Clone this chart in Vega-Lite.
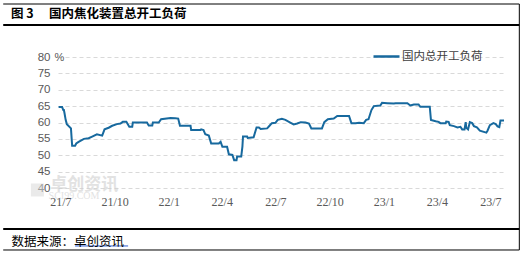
{
  "$schema": "https://vega.github.io/schema/vega-lite/v6.json",
  "width": 446,
  "height": 131,
  "autosize": {"type": "none"},
  "padding": {"left": 58, "top": 57, "right": 16, "bottom": 68},
  "background": "white",
  "config": {"view": {"stroke": null}},
  "resolve": {"axis": {"x": "independent", "y": "independent"}},
  "title": {
    "text": "图 3　 国内焦化装置总开工负荷",
    "anchor": "start",
    "frame": "group",
    "dx": -47,
    "offset": -17,
    "font": "Noto Sans CJK SC",
    "fontSize": 12.5,
    "fontWeight": "bold",
    "color": "#000000"
  },
  "layer": [
    {
      "data": {"values": [{"t": "卓创资讯"}]},
      "mark": {"type": "text", "align": "left", "baseline": "middle", "font": "Noto Sans CJK SC", "fontSize": 17, "fontWeight": "bold", "color": "#cfcfcf", "opacity": 0.6},
      "encoding": {
        "x": {"datum": {"year": 2021, "month": 6, "date": 14, "utc": true}, "type": "temporal", "axis": null},
        "y": {"datum": 40.9, "axis": null},
        "text": {"field": "t"}
      }
    },
    {
      "data": {"values": [{"t": "SCI99.COM"}]},
      "mark": {"type": "text", "align": "left", "baseline": "middle", "font": "Liberation Serif", "fontSize": 10, "color": "#cfcfcf", "opacity": 0.6},
      "encoding": {
        "x": {"datum": {"year": 2021, "month": 6, "date": 11, "utc": true}, "type": "temporal", "axis": null},
        "y": {"datum": 37.56, "axis": null},
        "text": {"field": "t"}
      }
    },
    {
      "data": {"values": [{}]},
      "mark": {"type": "point", "shape": "square", "filled": true, "size": 169, "color": "#d8d8d8", "opacity": 0.55},
      "encoding": {
        "x": {"datum": {"year": 2021, "month": 5, "date": 23, "utc": true}, "type": "temporal", "axis": null},
        "y": {"datum": 39.39, "axis": null}
      }
    },
    {
      "data": {
        "values": [
          {"d": "2021-06-28", "v": 64.7}, {"d": "2021-07-04", "v": 64.7}, {"d": "2021-07-06", "v": 63.8},
          {"d": "2021-07-07", "v": 63.8}, {"d": "2021-07-08", "v": 62.9}, {"d": "2021-07-10", "v": 60.8},
          {"d": "2021-07-12", "v": 59.5}, {"d": "2021-07-19", "v": 58.2}, {"d": "2021-07-21", "v": 52.9},
          {"d": "2021-07-26", "v": 52.9}, {"d": "2021-07-28", "v": 53.6}, {"d": "2021-08-01", "v": 54.1},
          {"d": "2021-08-10", "v": 55.0}, {"d": "2021-08-18", "v": 55.2}, {"d": "2021-08-24", "v": 55.7},
          {"d": "2021-09-01", "v": 56.4}, {"d": "2021-09-10", "v": 56.0}, {"d": "2021-09-14", "v": 57.9},
          {"d": "2021-09-21", "v": 58.4}, {"d": "2021-09-27", "v": 59.0}, {"d": "2021-10-05", "v": 59.5},
          {"d": "2021-10-11", "v": 59.7}, {"d": "2021-10-15", "v": 60.2}, {"d": "2021-10-21", "v": 60.2},
          {"d": "2021-10-26", "v": 58.7}, {"d": "2021-10-31", "v": 58.7}, {"d": "2021-11-01", "v": 60.0},
          {"d": "2021-11-25", "v": 60.0}, {"d": "2021-11-28", "v": 59.1}, {"d": "2021-12-04", "v": 59.1},
          {"d": "2021-12-05", "v": 60.0}, {"d": "2021-12-15", "v": 60.0}, {"d": "2021-12-19", "v": 61.0},
          {"d": "2022-01-04", "v": 61.4}, {"d": "2022-01-12", "v": 61.3}, {"d": "2022-01-17", "v": 61.2},
          {"d": "2022-01-20", "v": 59.0}, {"d": "2022-02-07", "v": 59.0}, {"d": "2022-02-08", "v": 57.7},
          {"d": "2022-02-24", "v": 57.7}, {"d": "2022-02-25", "v": 57.9}, {"d": "2022-03-01", "v": 57.7},
          {"d": "2022-03-04", "v": 56.4}, {"d": "2022-03-10", "v": 56.0}, {"d": "2022-03-14", "v": 53.6},
          {"d": "2022-03-27", "v": 53.6}, {"d": "2022-03-30", "v": 54.1}, {"d": "2022-04-02", "v": 52.6},
          {"d": "2022-04-10", "v": 52.6}, {"d": "2022-04-13", "v": 50.3}, {"d": "2022-04-19", "v": 50.1},
          {"d": "2022-04-22", "v": 48.5}, {"d": "2022-04-26", "v": 48.5}, {"d": "2022-04-27", "v": 49.6},
          {"d": "2022-05-04", "v": 49.6}, {"d": "2022-05-06", "v": 52.6}, {"d": "2022-05-07", "v": 55.7},
          {"d": "2022-05-14", "v": 55.7}, {"d": "2022-05-15", "v": 55.3}, {"d": "2022-05-25", "v": 55.5},
          {"d": "2022-05-30", "v": 58.5}, {"d": "2022-06-03", "v": 58.5}, {"d": "2022-06-06", "v": 58.0},
          {"d": "2022-06-17", "v": 58.2}, {"d": "2022-06-21", "v": 59.0}, {"d": "2022-06-25", "v": 59.8},
          {"d": "2022-07-01", "v": 59.9}, {"d": "2022-07-05", "v": 60.8}, {"d": "2022-07-12", "v": 61.1},
          {"d": "2022-07-18", "v": 60.8}, {"d": "2022-07-27", "v": 59.9}, {"d": "2022-08-01", "v": 59.4},
          {"d": "2022-08-07", "v": 59.7}, {"d": "2022-08-13", "v": 60.1}, {"d": "2022-08-21", "v": 60.0},
          {"d": "2022-08-27", "v": 59.7}, {"d": "2022-08-31", "v": 58.2}, {"d": "2022-09-18", "v": 58.2},
          {"d": "2022-09-22", "v": 60.1}, {"d": "2022-09-28", "v": 61.0}, {"d": "2022-10-08", "v": 61.2},
          {"d": "2022-10-14", "v": 62.0}, {"d": "2022-11-03", "v": 62.0}, {"d": "2022-11-07", "v": 59.8},
          {"d": "2022-11-14", "v": 59.8}, {"d": "2022-11-20", "v": 59.9}, {"d": "2022-11-28", "v": 59.8},
          {"d": "2022-12-02", "v": 60.8}, {"d": "2022-12-06", "v": 61.0}, {"d": "2022-12-11", "v": 63.8},
          {"d": "2022-12-15", "v": 65.0}, {"d": "2022-12-26", "v": 65.2}, {"d": "2022-12-29", "v": 66.0},
          {"d": "2023-01-07", "v": 65.9}, {"d": "2023-01-18", "v": 65.8}, {"d": "2023-01-21", "v": 65.9},
          {"d": "2023-02-10", "v": 65.9}, {"d": "2023-02-15", "v": 65.2}, {"d": "2023-02-21", "v": 65.5},
          {"d": "2023-03-01", "v": 65.5}, {"d": "2023-03-04", "v": 64.8}, {"d": "2023-03-20", "v": 64.8},
          {"d": "2023-03-22", "v": 60.8}, {"d": "2023-03-30", "v": 60.4}, {"d": "2023-04-04", "v": 60.2},
          {"d": "2023-04-07", "v": 59.8}, {"d": "2023-04-16", "v": 59.8}, {"d": "2023-04-17", "v": 60.3},
          {"d": "2023-04-21", "v": 60.2}, {"d": "2023-04-23", "v": 59.2}, {"d": "2023-04-30", "v": 58.9},
          {"d": "2023-05-06", "v": 58.5}, {"d": "2023-05-11", "v": 58.7}, {"d": "2023-05-14", "v": 57.9},
          {"d": "2023-05-18", "v": 57.9}, {"d": "2023-05-20", "v": 60.1}, {"d": "2023-05-21", "v": 58.4},
          {"d": "2023-05-24", "v": 57.9}, {"d": "2023-05-27", "v": 60.1}, {"d": "2023-05-31", "v": 59.8},
          {"d": "2023-06-03", "v": 58.9}, {"d": "2023-06-08", "v": 58.5}, {"d": "2023-06-13", "v": 57.5},
          {"d": "2023-06-24", "v": 56.9}, {"d": "2023-06-26", "v": 57.5}, {"d": "2023-06-30", "v": 59.2},
          {"d": "2023-07-06", "v": 59.8}, {"d": "2023-07-10", "v": 59.5}, {"d": "2023-07-13", "v": 58.8},
          {"d": "2023-07-16", "v": 58.6}, {"d": "2023-07-18", "v": 60.6}, {"d": "2023-07-24", "v": 60.6}
        ]
      },
      "mark": {"type": "line", "strokeWidth": 2, "interpolate": "linear"},
      "encoding": {
        "x": {
          "field": "d",
          "type": "temporal",
          "scale": {"type": "utc", "domain": [{"year": 2021, "month": 6, "date": 27, "utc": true}, {"year": 2023, "month": 7, "date": 24, "utc": true}]},
          "axis": {
            "values": [
              {"year": 2021, "month": 7, "date": 1, "utc": true},
              {"year": 2021, "month": 10, "date": 1, "utc": true},
              {"year": 2022, "month": 1, "date": 1, "utc": true},
              {"year": 2022, "month": 4, "date": 1, "utc": true},
              {"year": 2022, "month": 7, "date": 1, "utc": true},
              {"year": 2022, "month": 10, "date": 1, "utc": true},
              {"year": 2023, "month": 1, "date": 1, "utc": true},
              {"year": 2023, "month": 4, "date": 1, "utc": true},
              {"year": 2023, "month": 7, "date": 1, "utc": true}
            ],
            "format": "%y/%-m",
            "grid": false,
            "ticks": false,
            "domain": false,
            "zindex": 1,
            "labelFont": "Liberation Serif",
            "labelFontSize": 12,
            "labelColor": "#595959",
            "labelPadding": 8,
            "title": "数据来源：卓创资讯",
            "titleAnchor": "start",
            "titleAlign": "left",
            "titleBaseline": "alphabetic",
            "titleX": -47,
            "titleY": 57,
            "titleFont": "Noto Sans CJK SC",
            "titleFontSize": 12.5,
            "titleFontWeight": "normal",
            "titleColor": "#000000"
          }
        },
        "y": {
          "field": "v",
          "type": "quantitative",
          "scale": {"domain": [40, 80], "nice": false, "zero": false},
          "axis": {
            "values": [40, 45, 50, 55, 60, 65, 70, 75, 80],
            "grid": true,
            "gridColor": "#d9d9d9",
            "gridDash": [4, 3],
            "gridWidth": 1,
            "ticks": false,
            "domain": false,
            "labelFont": "Liberation Sans",
            "labelFontSize": 11.5,
            "labelColor": "#595959",
            "labelPadding": 8,
            "labelOverlap": false,
            "title": "%",
            "titleAngle": 0,
            "titleX": -4,
            "titleY": 0,
            "titleAlign": "left",
            "titleBaseline": "middle",
            "titleFont": "Liberation Sans",
            "titleFontSize": 11,
            "titleFontWeight": "normal",
            "titleColor": "#595959"
          }
        },
        "color": {
          "datum": "国内总开工负荷",
          "scale": {"range": ["#17699e"]},
          "legend": {
            "orient": "none",
            "legendX": 314,
            "legendY": -15,
            "title": null,
            "padding": 0,
            "symbolType": "stroke",
            "symbolSize": 676,
            "symbolStrokeWidth": 2.5,
            "labelFont": "Noto Sans CJK SC",
            "labelFontSize": 11.5,
            "labelColor": "#404040",
            "labelOffset": 1
          }
        }
      }
    },
    {
      "data": {"values": [{}]},
      "mark": {"type": "rule", "color": "#000000", "strokeWidth": 2},
      "encoding": {
        "x": {"datum": {"year": 2021, "month": 3, "date": 26, "utc": true}, "type": "temporal", "axis": null},
        "x2": {"datum": {"year": 2023, "month": 8, "date": 19, "utc": true}},
        "y": {"datum": 89.77, "axis": null}
      }
    },
    {
      "data": {"values": [{}]},
      "mark": {"type": "rule", "color": "#000000", "strokeWidth": 2},
      "encoding": {
        "x": {"datum": {"year": 2021, "month": 3, "date": 26, "utc": true}, "type": "temporal", "axis": null},
        "x2": {"datum": {"year": 2023, "month": 8, "date": 19, "utc": true}},
        "y": {"datum": 27.48, "axis": null}
      }
    },
    {
      "data": {"values": [{}]},
      "mark": {"type": "rule", "color": "#000000", "strokeWidth": 1},
      "encoding": {
        "x": {"datum": {"year": 2021, "month": 3, "date": 26, "utc": true}, "type": "temporal", "axis": null},
        "x2": {"datum": {"year": 2023, "month": 8, "date": 19, "utc": true}},
        "y": {"datum": 96.18, "axis": null}
      }
    },
    {
      "data": {"values": [{}]},
      "mark": {"type": "rule", "color": "#000000", "strokeWidth": 1},
      "encoding": {
        "x": {"datum": {"year": 2021, "month": 3, "date": 26, "utc": true}, "type": "temporal", "axis": null},
        "x2": {"datum": {"year": 2023, "month": 8, "date": 19, "utc": true}},
        "y": {"datum": 21.07, "axis": null}
      }
    },
    {
      "data": {"values": [{}]},
      "mark": {"type": "rule", "color": "#000000", "strokeWidth": 1},
      "encoding": {
        "x": {"datum": {"year": 2023, "month": 8, "date": 19, "utc": true}, "type": "temporal", "axis": null},
        "y": {"datum": 96.18, "axis": null},
        "y2": {"datum": 21.07}
      }
    },
    {
      "data": {"values": [{}]},
      "mark": {"type": "rule", "color": "#2f5fd0", "strokeWidth": 1},
      "encoding": {
        "x": {"datum": {"year": 2021, "month": 7, "date": 26, "utc": true}, "type": "temporal", "axis": null},
        "x2": {"datum": {"year": 2021, "month": 10, "date": 24, "utc": true}},
        "y": {"datum": 22.3, "axis": null}
      }
    }
  ]
}
